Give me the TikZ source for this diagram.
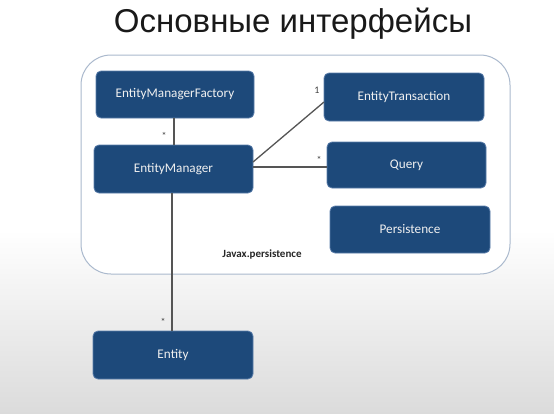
\documentclass[tikz,border=0pt]{standalone}
\usepackage{fontspec}
\setmainfont{Liberation Sans}
\newfontfamily\boxfont{Carlito}
\begin{document}
\begin{tikzpicture}[x=1pt,y=-1pt,
  iface/.style={draw=boxedge, line width=0.8pt, fill=boxblue, rounded corners=5pt,
    text=black!6, font=\boxfont\fontsize{13.2}{15}\selectfont, inner sep=0pt},
  link/.style={draw=linkgray, line width=1.3pt},
  mult/.style={font=\boxfont\fontsize{10}{11}\selectfont, text=black!75, inner sep=0pt}]
\definecolor{boxblue}{RGB}{29,73,122}
\definecolor{boxedge}{RGB}{90,125,170}
\definecolor{linkgray}{RGB}{85,85,85}
\definecolor{framec}{RGB}{170,185,205}
% page background
\useasboundingbox (0,0) rectangle (554,413);
\fill[white] (0,0) rectangle (554,230);
\shade[top color=white, bottom color=black!14] (0,230) rectangle (554,413);
% title
\node[font=\fontsize{33}{37}\selectfont, text=black!90, inner sep=0pt] (title) at (293,24) {Основные интерфейсы};
% package frame
\draw[framec, line width=1pt, fill=white, rounded corners=30pt] (81,55) rectangle (510,274);
\node[font=\boxfont\bfseries\fontsize{11}{12}\selectfont, text=black!85, inner sep=0pt] (pkg) at (262,254) {Javax.persistence};
% interfaces
\node[iface, minimum width=158pt, minimum height=47pt] (emf) at (175,94.5) {EntityManagerFactory};
\node[iface, minimum width=159pt, minimum height=48pt] (em) at (173.5,169) {EntityManager};
\node[iface, minimum width=160pt, minimum height=48pt] (et) at (404,97) {EntityTransaction};
\node[iface, minimum width=159pt, minimum height=46pt] (q) at (406.5,165) {Query};
\node[iface, minimum width=160pt, minimum height=47pt] (p) at (410,229.5) {Persistence};
\node[iface, minimum width=160pt, minimum height=48pt] (ent) at (173,355) {Entity};
% associations
\coordinate (emN) at (174,145);
\coordinate (emS) at (172,193);
\coordinate (emE1) at (253,162);
\coordinate (emE2) at (253,167);
\coordinate (etW) at (324,102);
\coordinate (qW) at (327,167);
\draw[link] (emf.south -| emN) -- (emN);
\draw[link] (emE1) -- (etW);
\draw[link] (emE2) -- (qW);
\draw[link] (emS) -- (ent.north -| emS);
% multiplicities
\node[mult] (m1) at (164,136) {*};
\node[mult] (m2) at (317,90) {1};
\node[mult] (m3) at (319,160) {*};
\node[mult] (m4) at (163,322) {*};
\end{tikzpicture}
\end{document}
